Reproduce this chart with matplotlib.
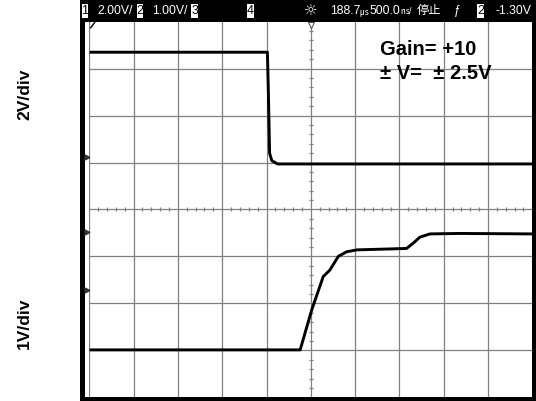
#!/usr/bin/env python3
"""Oscilloscope capture: non-inverting gain step response."""
import matplotlib
matplotlib.use("Agg")
import matplotlib.pyplot as plt
from matplotlib.patches import Rectangle

# ---- data (screen divisions: x 0..10, y -4..4) ----
ch1_x = [0.04, 4.02, 4.04, 4.07, 4.12, 4.25, 10.0]
ch1_y = [3.35, 3.35, 2.60, 1.20, 1.04, 0.97, 0.97]

ch2_x = [0.04, 4.76, 5.02, 5.28, 5.43, 5.62, 5.81, 6.04, 7.16, 7.31, 7.46, 7.69, 8.37, 10.0]
ch2_y = [-2.99, -2.99, -2.14, -1.43, -1.29, -1.00, -0.90, -0.86, -0.83, -0.72, -0.59, -0.52, -0.51, -0.52]

ground_y = [1.12, -0.48, -1.71]

header_items = ["2.00V/", "1.00V/", "188.7", "500.0", "停止", "ƒ", "-1.30V"]
header_units = ["㎲", "㎱/"]
header_boxes = ["1", "2", "3", "4", "2"]

W, H = 536, 401


def fx(px):
    return px / W


def fy(py):
    return 1 - py / H


def main() -> None:
    fig = plt.figure(figsize=(W / 100, H / 100), dpi=100)
    fig.patch.set_facecolor("white")

    # outer black frame
    fig.add_artist(Rectangle((fx(80), 0), fx(456), 1, transform=fig.transFigure,
                             facecolor="black", edgecolor="none", zorder=0))
    fig.add_artist(Rectangle((fx(85), fy(397.3)), fx(532.3 - 85), (397.3 - 21.7) / H,
                             transform=fig.transFigure, facecolor="white",
                             edgecolor="none", zorder=0))

    # graticule
    ax = fig.add_axes([fx(89.3), fy(397.3), fx(532.3 - 89.3), (397.3 - 21.7) / H])
    ax.set_xlim(0, 10)
    ax.set_ylim(-4, 4)
    ax.axis("off")
    ax.patch.set_alpha(0)
    grid_c = "#808080"
    for i in range(0, 10):
        ax.axvline(i, color=grid_c, lw=0.9, zorder=1)
    for j in range(-3, 4):
        ax.axhline(j, color=grid_c, lw=0.9, zorder=1)
    minor = [k / 5 for k in range(0, 51) if k % 5]
    ax.plot(minor, [0] * len(minor), ls="", marker="|", ms=3, mew=0.9, color=grid_c, zorder=1)
    minor_y = [k / 5 - 4 for k in range(0, 41) if k % 5]
    ax.plot([5] * len(minor_y), minor_y, ls="", marker="_", ms=3, mew=0.9, color=grid_c, zorder=1)

    # traces
    ax.plot(ch1_x, ch1_y, color="black", lw=2.1, solid_joinstyle="round", zorder=3)
    ax.plot(ch2_x, ch2_y, color="black", lw=2.1, solid_joinstyle="round", zorder=3)

    # markers: ground references and trigger position
    ax.plot([-0.05] * len(ground_y), ground_y, ls="", marker=">", ms=3.5, color="#333333",
            clip_on=False, zorder=4)
    ax.plot([5], [3.93], ls="", marker="v", ms=4, mfc="white", mec="#555555", mew=0.8,
            clip_on=False, zorder=4)
    ax.plot([0.03, 0.12], [3.87, 3.98], color="black", lw=1.0, clip_on=False, zorder=4)

    # annotation
    ax.text(6.56, 3.29, "Gain= +10", fontsize=14.5, fontweight="bold",
            family="Liberation Sans", ha="left", va="baseline")
    ax.text(6.56, 2.79, "± V=  ± 2.5V", fontsize=14.5, fontweight="bold",
            family="Liberation Sans", ha="left", va="baseline")

    # header bar (pixel coordinates)
    hx = fig.add_axes([fx(80), fy(21.7), fx(456), 21.7 / H])
    hx.set_xlim(80, 536)
    hx.set_ylim(21.7, 0)
    hx.set_facecolor("black")
    hx.set_xticks([])
    hx.set_yticks([])
    for s in hx.spines.values():
        s.set_visible(False)

    hfont = ["Liberation Sans", "Noto Sans CJK JP", "DejaVu Sans"]
    box_x = [85, 140, 194.5, 250.5, 480.5]
    for cx, lab in zip(box_x, header_boxes):
        hx.add_patch(Rectangle((cx - 3.4, 3.5), 6.8, 15, facecolor="white", edgecolor="none"))
        hx.text(cx, 11.3, lab, color="black", fontsize=9, family=hfont,
                ha="center", va="center")
    item_x = [97, 152, 330, 370, 417, 454, 496]
    for x0, lab in zip(item_x, header_items):
        hx.text(x0, 11.3, lab, color="white", fontsize=8.8, family=hfont,
                ha="left", va="center")
    for x0, lab in zip([360, 400], header_units):
        hx.text(x0, 11.8, lab, color="white", fontsize=6.5, family=hfont,
                ha="left", va="center")
    hx.text(311, 11, "☼", color="white", fontsize=11, family="DejaVu Sans",
            ha="center", va="center")

    # channel scale labels
    fig.text(fx(24.5), fy(94.5), "2V/div", rotation=90, fontsize=12.5, fontweight="bold",
             family="Liberation Sans", ha="center", va="center")
    fig.text(fx(24.5), fy(323), "1V/div", rotation=90, fontsize=12.5, fontweight="bold",
             family="Liberation Sans", ha="center", va="center")

    fig.savefig("out.png", dpi=100)
    plt.close(fig)


if __name__ == "__main__":
    main()
